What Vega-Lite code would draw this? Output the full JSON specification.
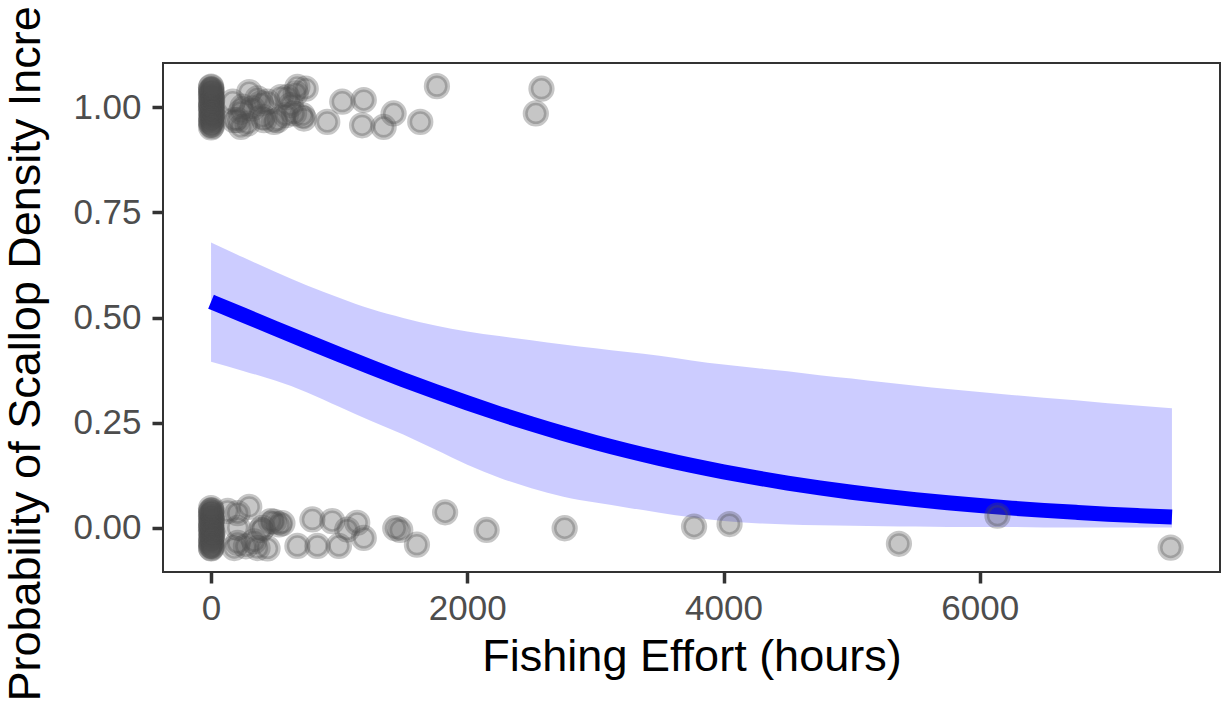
{
  "$schema": "https://vega.github.io/schema/vega-lite/v6.json",
  "width": 1057,
  "height": 509,
  "autosize": {"type": "none"},
  "padding": {"left": 163, "top": 63, "right": 6, "bottom": 133},
  "background": "white",
  "config": {
    "font": "Liberation Sans",
    "view": {"stroke": "#333333", "strokeWidth": 2},
    "axis": {
      "grid": false,
      "domain": false,
      "tickColor": "#333333",
      "tickWidth": 3.5,
      "tickSize": 11,
      "labelColor": "#4d4d4d",
      "labelFont": "Liberation Sans",
      "labelFontSize": 35,
      "labelFlush": false,
      "labelOverlap": false,
      "labelBound": false,
      "titleFont": "Liberation Sans",
      "titleFontSize": 45,
      "titleFontWeight": "normal",
      "titleColor": "#000000"
    }
  },
  "datasets": {
    "fit": [
      {"effort": 0, "fit": 0.5374, "lower": 0.395, "upper": 0.678},
      {"effort": 250, "fit": 0.5059, "lower": 0.373, "upper": 0.643},
      {"effort": 500, "fit": 0.4743, "lower": 0.350, "upper": 0.609},
      {"effort": 750, "fit": 0.4429, "lower": 0.322, "upper": 0.576},
      {"effort": 1000, "fit": 0.4119, "lower": 0.288, "upper": 0.547},
      {"effort": 1250, "fit": 0.3817, "lower": 0.254, "upper": 0.520},
      {"effort": 1500, "fit": 0.3523, "lower": 0.222, "upper": 0.499},
      {"effort": 1750, "fit": 0.3240, "lower": 0.186, "upper": 0.481},
      {"effort": 2000, "fit": 0.2969, "lower": 0.150, "upper": 0.467},
      {"effort": 2250, "fit": 0.2712, "lower": 0.119, "upper": 0.456},
      {"effort": 2500, "fit": 0.2470, "lower": 0.094, "upper": 0.446},
      {"effort": 2750, "fit": 0.2242, "lower": 0.074, "upper": 0.436},
      {"effort": 3000, "fit": 0.2030, "lower": 0.060, "upper": 0.427},
      {"effort": 3250, "fit": 0.1833, "lower": 0.048, "upper": 0.418},
      {"effort": 3500, "fit": 0.1651, "lower": 0.036, "upper": 0.409},
      {"effort": 3750, "fit": 0.1483, "lower": 0.025, "upper": 0.398},
      {"effort": 4000, "fit": 0.1331, "lower": 0.016, "upper": 0.388},
      {"effort": 4250, "fit": 0.1192, "lower": 0.011, "upper": 0.380},
      {"effort": 4500, "fit": 0.1065, "lower": 0.008, "upper": 0.372},
      {"effort": 4750, "fit": 0.0950, "lower": 0.006, "upper": 0.363},
      {"effort": 5000, "fit": 0.0847, "lower": 0.005, "upper": 0.355},
      {"effort": 5250, "fit": 0.0754, "lower": 0.004, "upper": 0.346},
      {"effort": 5500, "fit": 0.0670, "lower": 0.003, "upper": 0.338},
      {"effort": 5750, "fit": 0.0595, "lower": 0.002, "upper": 0.330},
      {"effort": 6000, "fit": 0.0529, "lower": 0.002, "upper": 0.323},
      {"effort": 6250, "fit": 0.0469, "lower": 0.002, "upper": 0.316},
      {"effort": 6500, "fit": 0.0415, "lower": 0.001, "upper": 0.309},
      {"effort": 6750, "fit": 0.0368, "lower": 0.001, "upper": 0.303},
      {"effort": 7000, "fit": 0.0325, "lower": 0.001, "upper": 0.296},
      {"effort": 7250, "fit": 0.0288, "lower": 0.001, "upper": 0.290},
      {"effort": 7500, "fit": 0.0255, "lower": 0.001, "upper": 0.284}
    ],
    "pts": [
      {"effort": 0, "prob": 0.952}, {"effort": 3, "prob": 0.958}, {"effort": 1, "prob": 0.964}, {"effort": 5, "prob": 0.970},
      {"effort": 0, "prob": 0.976}, {"effort": 8, "prob": 0.981}, {"effort": 2, "prob": 0.987}, {"effort": 0, "prob": 0.992},
      {"effort": 6, "prob": 0.997}, {"effort": 1, "prob": 1.002}, {"effort": 4, "prob": 1.007}, {"effort": 0, "prob": 1.012},
      {"effort": 9, "prob": 1.017}, {"effort": 2, "prob": 1.022}, {"effort": 0, "prob": 1.027}, {"effort": 5, "prob": 1.032},
      {"effort": 1, "prob": 1.037}, {"effort": 3, "prob": 1.042}, {"effort": 0, "prob": 1.047}, {"effort": 7, "prob": 0.955},
      {"effort": 0, "prob": 0.967}, {"effort": 4, "prob": 0.979}, {"effort": 10, "prob": 0.990}, {"effort": 0, "prob": 1.000},
      {"effort": 2, "prob": 1.010}, {"effort": 6, "prob": 1.020}, {"effort": 0, "prob": 1.030}, {"effort": 3, "prob": 1.040},
      {"effort": 12, "prob": 0.985}, {"effort": 1, "prob": 1.049},
      {"effort": 169, "prob": 1.013}, {"effort": 181, "prob": 0.969}, {"effort": 208, "prob": 0.969}, {"effort": 233, "prob": 0.953},
      {"effort": 233, "prob": 0.989}, {"effort": 246, "prob": 1.001}, {"effort": 285, "prob": 0.961}, {"effort": 298, "prob": 1.036},
      {"effort": 324, "prob": 0.997}, {"effort": 363, "prob": 1.021}, {"effort": 389, "prob": 1.009}, {"effort": 402, "prob": 0.977},
      {"effort": 414, "prob": 0.969}, {"effort": 441, "prob": 1.013}, {"effort": 492, "prob": 0.965}, {"effort": 519, "prob": 0.969},
      {"effort": 544, "prob": 1.024}, {"effort": 583, "prob": 0.981}, {"effort": 596, "prob": 1.024}, {"effort": 622, "prob": 1.005},
      {"effort": 648, "prob": 0.985}, {"effort": 661, "prob": 1.033}, {"effort": 674, "prob": 1.048}, {"effort": 713, "prob": 0.981},
      {"effort": 725, "prob": 0.973}, {"effort": 739, "prob": 1.044}, {"effort": 907, "prob": 0.965}, {"effort": 1024, "prob": 1.013},
      {"effort": 1179, "prob": 0.957}, {"effort": 1192, "prob": 1.017}, {"effort": 1347, "prob": 0.953}, {"effort": 1425, "prob": 0.985},
      {"effort": 1633, "prob": 0.965}, {"effort": 1763, "prob": 1.050}, {"effort": 2535, "prob": 0.985}, {"effort": 2579, "prob": 1.044},
      {"effort": 0, "prob": -0.048}, {"effort": 3, "prob": -0.042}, {"effort": 1, "prob": -0.036}, {"effort": 5, "prob": -0.030},
      {"effort": 0, "prob": -0.024}, {"effort": 8, "prob": -0.019}, {"effort": 2, "prob": -0.013}, {"effort": 0, "prob": -0.008},
      {"effort": 6, "prob": -0.003}, {"effort": 1, "prob": 0.002}, {"effort": 4, "prob": 0.007}, {"effort": 0, "prob": 0.012},
      {"effort": 9, "prob": 0.017}, {"effort": 2, "prob": 0.022}, {"effort": 0, "prob": 0.027}, {"effort": 5, "prob": 0.032},
      {"effort": 1, "prob": 0.037}, {"effort": 3, "prob": 0.042}, {"effort": 0, "prob": 0.047}, {"effort": 7, "prob": -0.045},
      {"effort": 0, "prob": -0.033}, {"effort": 4, "prob": -0.021}, {"effort": 10, "prob": -0.010}, {"effort": 0, "prob": 0.000},
      {"effort": 2, "prob": 0.010}, {"effort": 6, "prob": 0.020}, {"effort": 0, "prob": 0.030}, {"effort": 3, "prob": 0.040},
      {"effort": 12, "prob": -0.015}, {"effort": 1, "prob": -0.049},
      {"effort": 130, "prob": 0.040}, {"effort": 181, "prob": -0.048}, {"effort": 208, "prob": 0.035}, {"effort": 208, "prob": 0.000},
      {"effort": 208, "prob": -0.036}, {"effort": 272, "prob": -0.044}, {"effort": 298, "prob": 0.050}, {"effort": 337, "prob": -0.032},
      {"effort": 363, "prob": -0.048}, {"effort": 389, "prob": -0.005}, {"effort": 402, "prob": 0.000}, {"effort": 441, "prob": -0.049},
      {"effort": 466, "prob": 0.016}, {"effort": 492, "prob": 0.015}, {"effort": 531, "prob": 0.008}, {"effort": 557, "prob": 0.011},
      {"effort": 674, "prob": -0.043}, {"effort": 791, "prob": 0.020}, {"effort": 830, "prob": -0.043}, {"effort": 946, "prob": 0.016},
      {"effort": 998, "prob": -0.043}, {"effort": 1063, "prob": -0.004}, {"effort": 1141, "prob": 0.012}, {"effort": 1192, "prob": -0.024},
      {"effort": 1438, "prob": -0.001}, {"effort": 1477, "prob": -0.005}, {"effort": 1607, "prob": -0.040}, {"effort": 1827, "prob": 0.037},
      {"effort": 2151, "prob": -0.005}, {"effort": 2760, "prob": -0.001}, {"effort": 3770, "prob": 0.003}, {"effort": 4047, "prob": 0.009},
      {"effort": 5369, "prob": -0.038}, {"effort": 6138, "prob": 0.029}, {"effort": 7490, "prob": -0.047}
    ]
  },
  "layer": [
    {
      "data": {"name": "fit"},
      "mark": {"type": "area", "color": "#0000ff", "opacity": 0.2, "interpolate": "monotone"},
      "encoding": {
        "x": {
          "field": "effort", "type": "quantitative",
          "scale": {"domain": [-375, 7875], "nice": false, "zero": false},
          "axis": {
            "title": "Fishing Effort (hours)",
            "values": [0, 2000, 4000, 6000],
            "format": "d",
            "labelBaseline": "alphabetic",
            "labelPadding": 36,
            "titleBaseline": "alphabetic",
            "titleY": 98
          }
        },
        "y": {
          "field": "lower", "type": "quantitative",
          "scale": {"domain": [-0.105, 1.105], "nice": false, "zero": false},
          "axis": {
            "title": "Probability of Scallop Density Incre",
            "values": [0, 0.25, 0.5, 0.75, 1],
            "format": ".2f",
            "labelBaseline": "middle",
            "labelPadding": 11,
            "titleAngle": 270,
            "titleAlign": "left",
            "titleBaseline": "alphabetic",
            "titleX": -124,
            "titleY": 638
          }
        },
        "y2": {"field": "upper"}
      }
    },
    {
      "data": {"name": "fit"},
      "mark": {"type": "line", "color": "#0000ff", "strokeWidth": 15, "strokeCap": "butt", "interpolate": "monotone"},
      "encoding": {
        "x": {"field": "effort", "type": "quantitative"},
        "y": {"field": "fit", "type": "quantitative"}
      }
    },
    {
      "data": {"name": "pts"},
      "mark": {
        "type": "point", "shape": "circle", "filled": true, "size": 452,
        "fill": "#4d4d4d", "stroke": "#4d4d4d", "strokeWidth": 5,
        "fillOpacity": 0.32, "strokeOpacity": 0.32, "opacity": 1
      },
      "encoding": {
        "x": {"field": "effort", "type": "quantitative"},
        "y": {"field": "prob", "type": "quantitative"}
      }
    }
  ]
}
